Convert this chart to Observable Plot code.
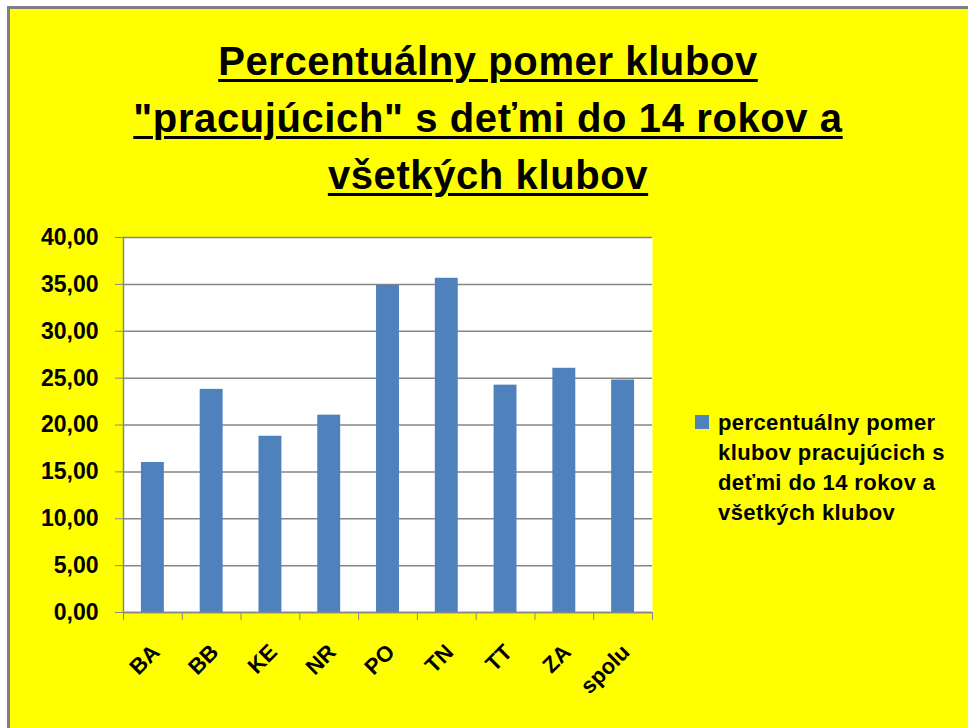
<!DOCTYPE html>
<html><head><meta charset="utf-8">
<script src="https://cdn.jsdelivr.net/npm/d3@7"></script>
<script src="https://cdn.jsdelivr.net/npm/@observablehq/plot@0.6"></script>
<style>
html,body{margin:0;padding:0;background:#fff;}
body{width:968px;height:728px;overflow:hidden;position:relative;font-family:"Liberation Sans",Arial,sans-serif;}
#panel{position:absolute;left:7px;top:6px;width:961px;height:722px;background:#ffff00;border-left:3px solid #808080;border-top:3px solid #808080;box-sizing:border-box;}
#title{position:absolute;left:0;width:976px;top:33px;text-align:center;font-weight:bold;font-size:40px;letter-spacing:0.6px;line-height:57px;color:#000;}
#title span{text-decoration:underline;text-decoration-thickness:3px;text-underline-offset:4px;}
#chart{position:absolute;left:0;top:220px;}
#legend{position:absolute;left:695px;top:408px;font-weight:bold;font-size:22px;letter-spacing:0.4px;line-height:30px;color:#000;display:flex;}
#legend .sw{width:14px;height:14px;background:#4f81bd;margin-top:7px;margin-right:9px;flex:none;}
</style></head>
<body>
<div id="panel"></div>
<div id="title"><span>Percentuálny pomer klubov</span><br><span>"pracujúcich" s deťmi do 14 rokov a</span><br><span>všetkých klubov</span></div>
<div id="chart"></div>
<div id="legend"><div class="sw"></div><div id="legtext">percentuálny pomer<br>klubov pracujúcich s<br>deťmi do 14 rokov a<br>všetkých klubov</div></div>
<script>
const categories = ["BA","BB","KE","NR","PO","TN","TT","ZA","spolu"];
const values = [16.0, 23.8, 18.8, 21.05, 34.9, 35.65, 24.25, 26.05, 24.8];
const yTicks = [0,5,10,15,20,25,30,35,40];

const data = categories.map((c,i)=>({cat:c, i, value:values[i]}));
const fmt = d => d.toFixed(2).replace(".", ",");
const font = '"Liberation Sans", Arial, sans-serif';

const chart = Plot.plot({
  width: 680,
  height: 500,
  marginLeft: 123,
  marginRight: 28,
  marginTop: 17,
  marginBottom: 108,
  style: {background: "transparent", fontFamily: font, fontWeight: "bold", fontSize: "23px", color: "#000"},
  x: {type: "linear", domain: [0, categories.length], axis: null},
  y: {domain: [0, 40], axis: null},
  marks: [
    Plot.frame({fill: "white", stroke: null}),
    Plot.ruleY(yTicks, {stroke: "#868686", strokeWidth: 1.5}),
    Plot.axisY({ticks: yTicks, tickSize: 8, tickPadding: 17, tickFormat: fmt, stroke: "#868686", fill: "#000", fontSize: 23, fontWeight: "bold", label: null}),
    Plot.frame({anchor: "left", stroke: "#868686", strokeWidth: 1.5}),
    Plot.rectY(data, {x1: d => d.i + 0.305, x2: d => d.i + 0.695, y: "value", fill: "#4f81bd"}),
    Plot.ruleY([0], {stroke: "#868686", strokeWidth: 1.5}),
    Plot.axisX({ticks: d3.range(categories.length + 1), tickSize: 8, tickFormat: () => "", stroke: "#868686", label: null}),
    Plot.text(data, {x: d => d.i + 0.5, y: 0, text: "cat", rotate: -45, textAnchor: "end", dy: 36, dx: 3, fontSize: 22, fontWeight: "bold", fill: "#000"})
  ]
});
document.getElementById("chart").appendChild(chart);
</script>
</body></html>
